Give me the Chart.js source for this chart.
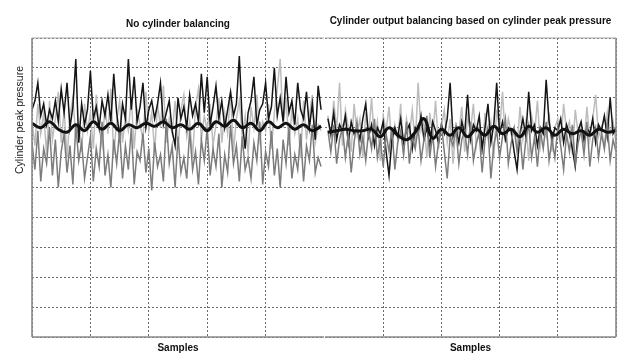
<!DOCTYPE html>
<html>
<head>
<meta charset="utf-8">
<script src="https://cdn.jsdelivr.net/npm/chart.js@4.4.1/dist/chart.umd.min.js"></script>
<style>
  html, body { margin: 0; padding: 0; background: #fff; width: 619px; height: 354px; overflow: hidden; }
  canvas { position: absolute; top: 0; }
  #left { left: 0; }
  #right { left: 315px; }
</style>
</head>
<body>
<canvas id="left" width="325" height="354"></canvas>
<canvas id="right" width="304" height="354"></canvas>
<script>
// Text
const leftTitle = 'No cylinder balancing';
const rightTitle = 'Cylinder output balancing based on cylinder peak pressure';
const xTitle = 'Samples';
const yTitle = 'Cylinder peak pressure';

// Peak pressure per sample, three cylinders, before balancing
const leftBlack = [7.6,7.9,8.5,7.4,7.8,7.1,7.6,7.3,7.9,7.2,8.3,7.5,8.5,7.0,7.7,9.3,6.5,7.8,7.1,7.6,
  8.9,7.3,7.7,7.0,7.9,7.4,8.1,7.2,8.8,7.5,6.7,7.8,7.3,9.3,7.6,8.7,7.2,7.7,8.5,7.0,
  7.6,7.9,7.3,7.8,8.5,7.1,7.5,7.9,6.9,6.4,8.0,7.3,7.7,7.0,8.1,7.4,7.8,7.2,8.8,7.5,
  8.7,7.1,7.7,8.4,7.3,7.9,7.0,7.6,8.2,7.4,7.8,9.4,7.2,6.3,7.5,7.9,8.7,7.1,7.6,7.8,
  8.5,7.3,7.7,9.0,7.4,8.0,7.2,8.7,7.5,7.9,7.1,8.5,7.6,7.3,8.2,7.0,7.8,6.6,8.4,7.6];
const leftLight = [7.2,6.4,7.8,6.8,7.5,6.1,7.9,6.6,7.3,8.2,6.5,7.6,6.0,7.4,8.0,6.7,7.1,6.2,7.8,6.9,
  7.5,6.3,8.1,7.0,6.4,7.7,6.8,8.3,6.1,7.2,7.9,6.5,7.4,6.9,8.0,6.3,7.6,7.1,6.6,8.2,
  6.9,7.5,6.2,7.8,7.0,8.4,6.5,7.3,6.8,7.9,6.3,7.6,8.1,6.7,7.2,6.0,7.7,8.3,6.6,7.4,
  6.9,7.8,6.4,7.1,8.0,6.5,7.5,6.8,8.2,6.2,7.3,7.9,6.7,7.4,6.1,7.7,7.0,8.1,6.6,7.2,
  6.9,7.8,6.3,7.5,8.3,9.3,7.0,8.0,6.4,7.6,6.8,7.3,6.0,7.9,6.6,7.4,8.1,6.5,7.1,6.9];
const leftDark = [6.5,5.6,6.9,5.2,6.3,5.8,7.0,5.4,6.6,5.0,6.2,6.8,5.5,6.4,5.1,7.1,5.9,6.5,5.3,6.0,
  6.7,5.2,6.3,5.7,7.2,5.4,6.1,5.0,6.6,5.8,6.9,5.3,6.4,5.6,7.0,5.1,6.2,5.9,6.8,5.5,
  6.3,4.9,6.5,5.7,6.1,5.2,7.3,5.8,6.4,5.0,6.7,5.5,6.0,5.3,6.9,5.6,6.2,5.1,6.6,5.9,
  7.0,5.4,6.3,5.7,6.8,5.0,6.1,5.5,7.1,5.8,6.4,5.2,6.7,5.6,6.0,5.3,6.5,5.9,7.2,5.1,
  6.2,5.7,6.9,5.4,6.3,5.0,6.6,5.8,7.0,5.3,6.1,5.6,6.8,5.2,6.4,5.9,7.1,5.5,6.0,5.7];
// Moving average, one value every third sample
const leftTrend = [7.15,7.0,7.2,6.95,6.85,7.1,6.9,7.2,6.95,7.15,6.9,7.1,7.0,7.15,7.05,7.2,7.0,
  7.1,6.95,7.15,6.9,7.2,7.05,7.25,7.0,7.15,6.9,7.2,7.0,7.15,6.95,7.1,6.9,7.05];

// Peak pressure per sample, after balancing on peak pressure
const rightBlack = [7.3,6.8,7.5,6.6,7.1,6.9,7.4,6.5,7.2,6.8,7.0,6.6,7.3,7.8,6.7,7.1,6.4,7.0,6.8,7.2,
  6.2,5.4,6.6,7.0,6.7,7.3,6.5,6.9,7.1,6.3,7.0,6.8,7.4,6.6,7.0,6.4,7.2,6.9,6.5,7.1,
  6.8,7.3,8.5,6.7,7.0,6.5,7.2,6.8,8.1,6.6,7.1,6.9,7.4,6.3,7.0,7.8,6.5,7.1,8.5,6.8,
  7.2,6.6,7.0,6.9,6.2,5.6,6.8,7.3,6.7,8.2,6.9,7.1,6.4,7.0,6.8,8.6,7.2,6.6,7.0,6.9,
  7.3,6.5,7.1,6.8,6.3,5.7,6.9,7.2,6.6,7.0,6.8,7.3,6.5,7.1,6.9,7.4,6.7,8.0,6.8,7.0];
const rightLight = [7.4,6.6,7.9,6.9,8.5,6.4,7.6,7.0,6.2,7.8,6.8,7.3,6.0,7.5,6.7,8.0,6.5,7.2,5.9,7.4,
  6.9,7.7,6.3,7.1,6.6,7.8,6.1,7.3,6.8,7.6,6.4,8.5,6.9,7.2,6.0,7.5,6.7,7.9,6.3,7.0,
  7.6,6.5,7.3,5.8,7.1,6.8,7.7,6.2,7.4,6.9,7.8,6.4,7.0,6.1,7.5,6.7,7.2,6.0,7.6,6.9,
  8.2,6.5,7.3,6.8,7.0,6.3,7.7,6.6,7.2,5.9,7.4,6.8,7.9,6.4,7.1,6.7,7.5,6.2,7.0,7.3,
  6.5,7.8,6.9,7.2,6.1,7.6,6.8,7.1,6.4,7.7,6.6,7.3,8.1,6.7,7.0,6.3,7.5,6.8,7.2,6.5];
const rightDark = [6.9,6.2,7.1,5.8,6.6,7.0,6.0,6.8,5.5,6.5,7.2,6.1,6.7,5.9,6.9,6.3,7.3,6.0,6.6,5.7,
  6.8,6.2,7.0,5.6,6.5,6.9,6.1,7.2,5.8,6.7,6.3,7.0,5.9,6.6,7.4,6.0,6.8,5.7,6.5,7.1,
  6.2,5.3,6.7,6.4,7.0,5.8,6.6,6.9,6.1,7.2,5.9,6.5,6.8,5.5,6.6,7.0,5.3,6.4,6.9,6.0,
  6.7,7.3,5.8,6.5,7.0,6.2,6.8,5.6,6.6,7.1,6.0,6.7,5.7,6.9,6.3,7.2,5.9,6.6,6.0,7.0,
  6.4,5.6,6.8,6.2,7.1,5.8,6.5,6.9,6.1,7.2,5.7,6.6,7.0,6.0,6.8,6.3,7.1,5.9,6.6,6.2];
const rightTrend = [6.85,6.9,6.95,6.9,6.9,6.95,6.7,7.0,6.75,6.6,6.85,7.3,6.65,6.95,6.75,7.0,6.7,
  6.95,6.75,7.05,6.8,6.95,6.7,7.05,6.85,7.0,6.75,6.95,6.8,6.9,6.75,6.95,6.85,6.9];

const FONT = '"Liberation Sans", Arial, sans-serif';

function points(values, step, offset) {
  return values.map((v, i) => ({ x: i * step + offset, y: v }));
}

// The first dataset is painted last (on top)
function makeDatasets(black, light, dark, trend, offset) {
  const thin = { pointRadius: 0, borderWidth: 1.5, tension: 0, fill: false };
  return [
    { data: points(trend, 3, offset), borderColor: '#111', borderWidth: 3, pointRadius: 0, tension: 0.45, fill: false },
    Object.assign({ data: points(dark, 1, offset), borderColor: '#7c7c7c' }, thin),
    Object.assign({ data: points(black, 1, offset), borderColor: '#151515' }, thin),
    Object.assign({ data: points(light, 1, offset), borderColor: '#bdbdbd' }, thin)
  ];
}

// Solid frame on the chosen sides of the plot area
const framePlugin = {
  id: 'frame',
  afterDatasetsDraw(chart, args, opts) {
    const { ctx, chartArea: a } = chart;
    ctx.save();
    ctx.lineWidth = 1.6;
    ctx.strokeStyle = '#8a8a8a';
    ctx.beginPath();
    if (opts.sides.includes('left')) { ctx.moveTo(a.left, a.top); ctx.lineTo(a.left, a.bottom); }
    if (opts.sides.includes('right')) { ctx.moveTo(a.right, a.top); ctx.lineTo(a.right, a.bottom); }
    if (opts.sides.includes('bottom')) { ctx.moveTo(a.left, a.bottom); ctx.lineTo(a.right, a.bottom); }
    ctx.stroke();
    ctx.lineWidth = 1;
    ctx.strokeStyle = '#a8a8a8';
    ctx.beginPath();
    ctx.moveTo(a.left, a.top); ctx.lineTo(a.right, a.top);
    ctx.stroke();
    ctx.restore();
  }
};

// Vertical axis caption, placed beside the upper part of the plot
const yCaptionPlugin = {
  id: 'yCaption',
  afterDraw(chart, args, opts) {
    if (!opts.text) return;
    const { ctx } = chart;
    ctx.save();
    ctx.translate(opts.x, opts.y);
    ctx.rotate(-Math.PI / 2);
    ctx.font = '10.5px ' + FONT;
    ctx.fillStyle = '#222';
    ctx.textAlign = 'center';
    ctx.textBaseline = 'middle';
    ctx.fillText(opts.text, 0, 0);
    ctx.restore();
  }
};

function makeOptions(title, titlePad, edgeHidden, sides, padding, caption) {
  return {
    responsive: false,
    animation: false,
    layout: { padding: padding },
    plugins: {
      legend: { display: false },
      tooltip: { enabled: false },
      title: {
        display: true, text: title, color: '#111',
        font: { family: FONT, size: 10, weight: 'bold' },
        padding: titlePad
      },
      frame: { sides: sides },
      yCaption: caption
    },
    scales: {
      x: {
        type: 'linear', min: 0, max: 100,
        ticks: { display: false, stepSize: 20 },
        grid: {
          drawTicks: false, lineWidth: 1,
          color: c => (c.tick && c.tick.value === edgeHidden) ? 'rgba(0,0,0,0)' : '#6a6a6a'
        },
        border: { display: false, dash: [2, 2] },
        title: {
          display: true, text: xTitle, color: '#111',
          font: { family: FONT, size: 10, weight: 'bold' },
          padding: { top: 5, bottom: 0 }
        }
      },
      y: {
        min: 0, max: 10,
        ticks: { display: false, stepSize: 1 },
        grid: { drawTicks: false, lineWidth: 1, color: '#6a6a6a' },
        border: { display: false, dash: [2, 2] }
      }
    }
  };
}

new Chart(document.getElementById('left'), {
  type: 'line',
  data: { datasets: makeDatasets(leftBlack, leftLight, leftDark, leftTrend, 0) },
  options: makeOptions(leftTitle, { top: 18, bottom: 8 }, 100, ['left', 'bottom'],
    { left: 32, right: 1, top: 0, bottom: 0 }, { text: yTitle, x: 20, y: 120 }),
  plugins: [framePlugin, yCaptionPlugin]
});

new Chart(document.getElementById('right'), {
  type: 'line',
  data: { datasets: makeDatasets(rightBlack, rightLight, rightDark, rightTrend, 1) },
  options: makeOptions(rightTitle, { top: 15, bottom: 11 }, 0, ['right', 'bottom'],
    { left: 10, right: 3, top: 0, bottom: 0 }, { text: '' }),
  plugins: [framePlugin, yCaptionPlugin]
});
</script>
</body>
</html>
